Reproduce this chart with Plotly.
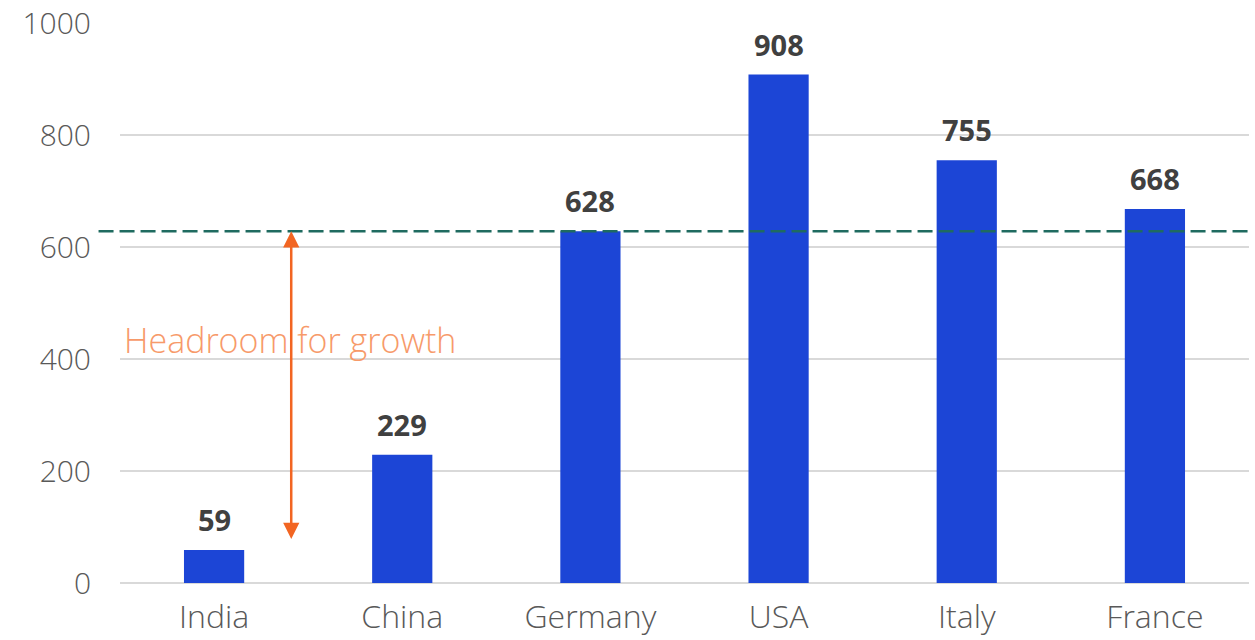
import plotly.graph_objects as go

# Per-country values
countries = ["India", "China", "Germany", "USA", "Italy", "France"]
values = [59, 229, 628, 908, 755, 668]
y_ticks = [0, 200, 400, 600, 800, 1000]

# Reference level (Germany) and the lower end of the growth arrow
benchmark = values[countries.index("Germany")]
arrow_low = 76
arrow_x = 0.41          # category-axis position of the arrow
note_text = "Headroom for growth"
note_y = 434

BAR_COLOR = "#1c45d6"
FONT = "Open Sans"

fig = go.Figure()
fig.add_trace(go.Bar(
    x=countries,
    y=values,
    marker=dict(color=BAR_COLOR, line=dict(width=0)),
    width=0.32,
    hoverinfo="skip",
))

# Bold value labels above each bar
for c, v in zip(countries, values):
    fig.add_annotation(
        x=c, y=v, text=str(v), showarrow=False,
        xanchor="center", yanchor="bottom", yshift=9,
        font=dict(family=FONT, size=29, color="#404040", weight="bold"),
    )

# Dashed benchmark line across the chart
fig.add_shape(
    type="line", xref="paper", yref="y",
    x0=-0.019, x1=1.003, y0=benchmark, y1=benchmark,
    line=dict(color="#1f6b60", width=2.5, dash="15px,6px"),
)

# Double-headed arrow for the gap
fig.add_annotation(
    x=arrow_x, y=benchmark, ax=arrow_x, ay=arrow_low,
    xref="x", yref="y", axref="x", ayref="y",
    showarrow=True, arrowhead=2, startarrowhead=2, arrowside="end+start",
    arrowsize=1.3, startarrowsize=1.3, arrowwidth=2.5, arrowcolor="#f26522",
    text="",
)

fig.add_annotation(
    x=-0.49, y=note_y, xref="x", yref="y", text=note_text, showarrow=False,
    xanchor="left", yanchor="middle",
    font=dict(family=FONT, size=34, color="#f79a6a", weight=300),
)

fig.update_layout(
    width=1255, height=640,
    margin=dict(l=120, r=6, t=23, b=57, autoexpand=False),
    plot_bgcolor="white", paper_bgcolor="white",
    showlegend=False,
    bargap=0.68,
    xaxis=dict(
        type="category",
        range=[-0.5, 5.5],
        automargin=False,
        showgrid=False, zeroline=False, showline=False,
        ticks="", ticklabelstandoff=12,
        tickfont=dict(family=FONT, size=32, color="#595959", weight=300),
    ),
    yaxis=dict(
        range=[0, 1000],
        tickvals=y_ticks,
        automargin=False,
        showgrid=True, gridcolor="#d9d9d9", gridwidth=1.5,
        zeroline=True, zerolinecolor="#d9d9d9", zerolinewidth=1.5,
        showline=False, ticks="", ticklabelstandoff=28,
        tickfont=dict(family=FONT, size=30, color="#595959", weight=300),
    ),
)

fig.write_html("out.html")
